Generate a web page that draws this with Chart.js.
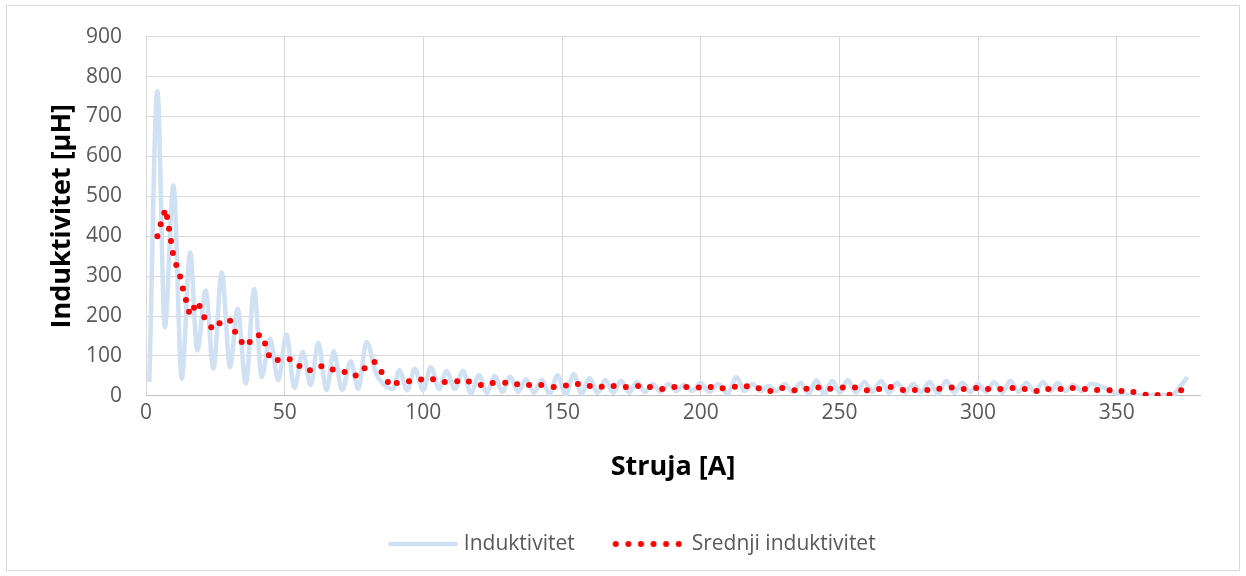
<!DOCTYPE html>
<html><head><meta charset="utf-8">
<script src="https://cdn.jsdelivr.net/npm/chart.js@4.4.0/dist/chart.umd.min.js"></script>
<style>html,body{margin:0;padding:0;background:#fff;}#wrap{position:relative;width:1246px;height:576px;}</style>
</head><body><div id="wrap"><canvas id="c" width="1246" height="576"></canvas></div>
<script>
const seriesNames = ['Induktivitet', 'Srednji induktivitet'];
const xTitle = 'Struja [A]';
const yTitle = 'Induktivitet [µH]';

const blueX = [
1.2, 4.1, 6.8, 9.9, 12.9, 15.9, 18.5, 21.5, 24.3, 27.3,
30.3, 33.0, 36.0, 39.0, 41.7, 44.7, 47.7, 50.6, 53.5, 56.5,
59.4, 62.1, 65.1, 67.7, 70.7, 73.8, 76.5, 79.5, 83.0, 85.5,
89.1, 91.3, 94.2, 96.9, 99.9, 102.7, 105.7, 108.3, 111.4, 114.2,
117.2, 120.0, 122.9, 125.7, 128.5, 131.3, 134.2, 137.0, 139.9, 142.7,
145.5, 148.4, 151.3, 154.2, 157.0, 159.9, 162.8, 165.6, 168.5, 171.3,
174.2, 177.0, 179.9, 182.7, 185.5, 188.4, 191.2, 194.1, 197.0, 199.9,
203.1, 206.4, 209.6, 212.9, 215.8, 218.7, 221.6, 224.5, 227.4, 230.3,
233.1, 236.0, 238.9, 241.7, 244.5, 247.4, 250.2, 253.0, 256.0, 259.0,
262.0, 265.0, 267.9, 270.8, 273.7, 276.6, 279.5, 282.5, 285.5, 288.5,
291.4, 294.3, 297.1, 300.0, 302.9, 305.8, 308.7, 311.6, 314.5, 317.4,
320.4, 323.4, 326.1, 328.8, 331.5, 334.2, 337.5, 340.8, 345.0, 349.8,
355.0, 362.0, 369.5, 375.5];
const blueY = [
35, 764, 172, 527, 43, 360, 114, 264, 68, 310,
72, 218, 31, 268, 47, 143, 39, 154, 20, 110,
27, 133, 14, 112, 14, 87, 17, 135, 55, 30,
17, 64, 14, 68, 14, 72, 17, 62, 17, 63,
6, 52, 8, 50, 10, 48, 10, 42, 8, 40,
5, 52, 2, 55, 5, 45, 8, 40, 8, 38,
8, 35, 10, 30, 10, 30, 12, 28, 12, 32,
10, 30, 6, 47, 12, 30, 12, 25, 12, 30,
10, 33, 6, 39, 5, 38, 8, 40, 8, 35,
10, 38, 8, 33, 8, 30, 10, 35, 5, 38,
8, 33, 10, 30, 10, 35, 8, 38, 10, 33,
10, 35, 12, 32, 12, 28, 12, 30, 22, 6,
2, 1, 2, 47];

const redX = [
4.1, 5.3, 6.6, 7.6, 8.3, 9.0, 9.7, 10.9, 12.3, 13.3,
14.4, 15.5, 17.3, 19.3, 21.0, 23.5, 26.5, 30.3, 32.1, 34.5,
37.4, 40.7, 42.9, 44.3, 47.5, 51.8, 55.3, 59.1, 63.2, 67.3,
71.6, 75.6, 78.8, 82.4, 84.9, 87.2, 90.4, 94.8, 99.2, 103.5,
107.7, 112.2, 116.4, 120.7, 125.0, 129.5, 133.8, 138.1, 142.5, 147.0,
151.4, 155.7, 160.0, 164.3, 168.6, 173.0, 177.4, 181.7, 186.1, 190.5,
194.8, 199.3, 203.6, 207.9, 212.3, 216.6, 220.9, 225.1, 229.4, 233.8,
238.1, 242.4, 246.7, 251.2, 255.6, 259.9, 264.3, 268.5, 272.9, 277.2,
281.7, 286.0, 290.5, 294.8, 299.3, 303.6, 308.0, 312.4, 316.8, 321.1,
325.3, 329.7, 334.1, 338.5, 342.9, 347.4, 351.7, 356.0, 360.4, 364.7,
369.0, 373.2];
const redY = [
400, 430, 459, 448, 419, 388, 358, 328, 299, 269,
240, 211, 221, 225, 197, 172, 182, 188, 161, 135,
135, 152, 131, 102, 90, 92, 75, 64, 74, 66,
60, 51, 69, 85, 60, 35, 32, 37, 41, 42,
35, 37, 36, 27, 32, 33, 29, 27, 27, 22,
26, 30, 25, 23, 25, 22, 25, 22, 17, 22,
22, 21, 22, 19, 23, 24, 19, 12, 20, 14,
18, 21, 18, 21, 21, 14, 17, 22, 15, 15,
15, 18, 21, 17, 20, 17, 17, 20, 17, 12,
17, 17, 20, 17, 15, 14, 12, 10, 3, 2,
3, 14];

const BLUE = '#d0e1f3';
const RED = '#ff0000';

function makeBlueLegendImg() {
  const c = document.createElement('canvas');
  c.width = 107; c.height = 6;
  const g = c.getContext('2d');
  g.strokeStyle = BLUE; g.lineWidth = 4.5; g.lineCap = 'round';
  g.beginPath(); g.moveTo(37.75, 3); g.lineTo(103.25, 3); g.stroke();
  return c;
}
function makeRedLegendImg() {
  const c = document.createElement('canvas');
  c.width = 97; c.height = 8;
  const g = c.getContext('2d');
  g.fillStyle = RED;
  for (let i = 0; i < 6; i++) {
    g.beginPath(); g.arc(30.5 + i * 12.6, 4, 3, 0, Math.PI * 2); g.fill();
  }
  return c;
}
const legendImgs = [makeBlueLegendImg(), makeRedLegendImg()];

const frame = {
  id: 'frame',
  beforeDraw(chart) {
    const ctx = chart.ctx;
    ctx.save();
    ctx.fillStyle = '#fff';
    ctx.fillRect(0, 0, chart.width, chart.height);
    ctx.strokeStyle = '#d9d9d9'; ctx.lineWidth = 1;
    ctx.strokeRect(6.5, 5.5, 1233, 565);
    ctx.restore();
  },
  afterLayout(chart) {
    const l = chart.legend;
    if (l) { l.left -= 6; l.right -= 6; l.top += 1.5; l.bottom += 1.5; }
  }
};

const FONT = "'Open Sans', 'DejaVu Sans', sans-serif";

new Chart(document.getElementById('c'), {
  type: 'scatter',
  data: {
    datasets: [
      {
        label: seriesNames[0],
        data: blueX.map((x, i) => ({x, y: blueY[i]})),
        showLine: true,
        borderColor: BLUE,
        backgroundColor: BLUE,
        borderWidth: 4.5,
        pointRadius: 0,
        cubicInterpolationMode: 'monotone',
        order: 1
      },
      {
        label: seriesNames[1],
        data: redX.map((x, i) => ({x, y: redY[i]})),
        showLine: false,
        pointRadius: 3,
        pointBorderWidth: 0,
        pointBackgroundColor: RED,
        backgroundColor: RED,
        borderColor: RED,
        order: 0
      }
    ]
  },
  options: {
    responsive: false,
    animation: false,
    devicePixelRatio: 1,
    layout: { padding: { left: 46, right: 46, top: 34, bottom: 13 } },
    scales: {
      x: {
        type: 'linear', min: 0, max: 380,
        ticks: { stepSize: 50, includeBounds: false, color: '#595959', padding: 5, font: { family: FONT, size: 21 } },
        grid: { color: '#d9d9d9', lineWidth: 1, drawTicks: false },
        border: { color: '#bfbfbf', width: 1 },
        title: { display: true, text: xTitle, color: '#000', font: { family: FONT, size: 27, weight: 'bold' }, padding: { top: 20, bottom: 37 } }
      },
      y: {
        min: 0, max: 900,
        afterFit: (s) => { s.width = 100; },
        ticks: { stepSize: 100, color: '#595959', padding: 24, font: { family: FONT, size: 21 } },
        grid: { color: '#d9d9d9', lineWidth: 1, drawTicks: false },
        border: { color: '#d9d9d9', width: 1 },
        title: { display: true, text: yTitle, color: '#000', font: { family: FONT, size: 27, weight: 'bold' }, padding: { top: 0, bottom: 9 } }
      }
    },
    plugins: {
      tooltip: { enabled: false },
      legend: {
        position: 'bottom',
        labels: {
          usePointStyle: true,
          pointStyleWidth: 95,
          padding: 11.5,
          color: '#595959',
          font: { family: FONT, size: 21 },
          sort: (a, b) => a.datasetIndex - b.datasetIndex,
          generateLabels(chart) {
            const items = Chart.defaults.plugins.legend.labels.generateLabels(chart);
            items.forEach(it => { it.pointStyle = legendImgs[it.datasetIndex]; it.rotation = 0; });
            return items;
          }
        }
      }
    }
  },
  plugins: [frame]
});
</script></body></html>
